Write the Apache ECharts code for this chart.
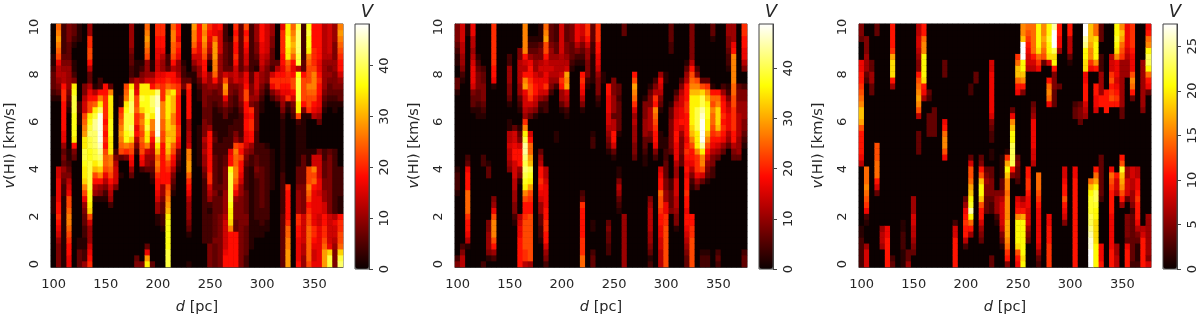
<!DOCTYPE html>
<html>
<head>
<meta charset="utf-8">
<script src="https://cdn.jsdelivr.net/npm/echarts@6/dist/echarts.min.js"></script>
<style>
    html, body { margin: 0; background: #fff; }
    #chart { width: 1200px; height: 320px; }
</style>
</head>
<body>
<div id="chart"></div>
<script>
const distances = [100,105,110,115,120,125,130,135,140,145,150,155,160,165,170,175,180,185,190,195,200,205,210,215,220,225,230,235,240,245,250,255,260,265,270,275,280,285,290,295,300,305,310,315,320,325,330,335,340,345,350,355,360,365,370,375];
const speeds = [0,0.25,0.5,0.75,1,1.25,1.5,1.75,2,2.25,2.5,2.75,3,3.25,3.5,3.75,4,4.25,4.5,4.75,5,5.25,5.5,5.75,6,6.25,6.5,6.75,7,7.25,7.5,7.75,8,8.25,8.5,8.75,9,9.25,9.5,9.75,10];
const hotColors = ["#0b0000","#5e0000","#b20000","#ff0700","#ff5a00","#ffae00","#ffff04","#ffff81","#ffffff"];

// one string per distance column, read top (v=10) to bottom (v=0), base 36 levels
const leftColumns = [
"00000112 33321000 00000000 00000111 00000000 0",
"cdedcb86 65431000 00000000 77888899 a9875444 4",
"22222345 669aa999 99885343 54322111 11111111 1",
"44433345 55543210 00000112 34678bbc ddcba998 8",
"33210011 24hijjji iiih9430 00000000 00000000 0",
"11100000 00000221 10000000 00000000 00001133 3",
"00000000 0044677b cdehhjji hhgdb854 33221122 5",
"55aabb96 33689bbh ijkjjiij jjjjiihg b7555789 a",
"00000000 00169chj llkkkjjh fb965100 00000000 0",
"00000000 0229dhkn nnnnmlkj gd954100 00000000 0",
"00000000 0099aaaa 9a9a9bcc b8642100 00000000 0",
"00000000 003dhhhh iiihhhdd cb976520 00000000 0",
"00000000 00000000 00000246 77740000 00000000 0",
"00000000 000011ab cdedcb30 01000000 00000000 0",
"00000000 00bcdhij jjiida40 00000000 00000000 0",
"55554332 24hjjkkj jkjgcb98 53000000 00000000 0",
"00000011 1678bbca a8964200 00000000 00000003 4",
"00000012 45hhjigc dcbcbb98 20000000 00000000 4",
"cdedcb55 57hhiiij ijhhd755 30000000 0000038e h",
"00000011 579hkkjh ddb97654 32100000 00000000 3",
"aa998877 89bkmmnn nnnkhfcd ca998755 11000000 0",
"aa998655 89aaaddd ccbb9999 99955433 22100000 0",
"00000223 9acfhhhh ggfggfdb a99bcdef hiiiiijj j",
"cddccb96 99bhfffd dfffcb98 64321000 00000000 0",
"998a9855 68aa9999 9aa98432 10000000 00000000 0",
"00000012 23410000 00000000 00000000 00000000 0",
"00000000 13a99999 55667dde eca98655 54310000 1",
"eddca753 11000000 00000000 00000000 00000000 0",
"99988775 53211000 01111111 00000000 00000000 0",
"ededcb99 87444433 44465655 43222222 22222000 0",
"a9876410 55543333 35999999 9aa76521 22222444 4",
"88ceeedd c9533211 11232233 33334333 33334333 3",
"97777555 55443321 11112222 22232333 44444444 4",
"22233333 7bed8533 11122233 44445555 67777789 9",
"00122223 65443321 12222899 ijjjjjih hgd99999 9",
"a9a99a97 77432211 2245bdcc ddca8544 43399999 9",
"33333333 56555432 2223a9b9 98755444 44444444 4",
"b9a98775 889bb998 99887543 22223333 44333332 2",
"22222222 334454a9 aa995422 11111111 11111100 0",
"55544321 77765333 33222233 43222222 21110000 0",
"99988776 55432110 00002222 33333332 22110000 0",
"77777654 44210000 00001222 22222222 21100000 0",
"55443332 7a842000 00000111 11110000 00000000 0",
"00000036 9aa64100 00000000 00000000 00000000 0",
"8aaaa998 9a986542 11111111 12222222 33333333 3",
"hhiihhcb aa98a210 00000000 000a9999 9accddee e",
"cdefec98 9bb97432 00000000 00000000 00000000 0",
"jkkkkjj6 ijjjjhhb 21111111 33345555 aa998888 9",
"22222233 9bbbb941 11111133 33344444 77777665 5",
"ijiihdcb bbdcbba1 00000111 bbbdcb9a bbcccccc b",
"9999aaab dddcb986 00000177 dbc98888 88aa9877 8",
"99999988 9a998875 30000477 77887888 77888888 8",
"66666655 55543210 00000223 33445577 99aabcee e",
"77777654 54332100 00000344 44444444 777778gj j",
"55544455 44432110 00000222 22222222 68776544 4",
"dedcba99 75433100 00000000 22222111 9aabbcgj k"
];
const middleColumns = [
"44432110 03310000 00000000 12221000 00000002 4",
"77766554 21000000 00000000 00000000 00000246 6",
"11000000 00000000 00000023 8999cccc a9986100 0",
"88665678 88743310 00000000 00000000 00000000 0",
"00000123 44433211 00000000 00000000 00000000 0",
"00000002 33444321 00000022 00000000 00000000 2",
"00000000 00000000 00000001 33000000 04455541 0",
"aaaaaaa9 98100000 00000000 00000458 bdddb952 0",
"00000000 00000000 00000000 00000000 00000000 0",
"00000000 00000000 00000000 00000000 00000000 0",
"00000225 55443100 11667665 40000000 00000000 0",
"00000000 00000000 03778997 77665544 21000000 0",
"00004466 66553210 01347999 54100000 67889999 9",
"ddddd976 9de87765 adhjllkj kjihdb99 abbbbbaa 6",
"00123589 9abba753 0079ccef jiheba99 bbbbbbbb 5",
"00123455 78997641 00000000 00000000 00000000 0",
"11134467 68875210 00000356 99a98755 33221000 0",
"cdebb977 88a74220 00000000 66788889 9aa99754 2",
"33345567 65420000 00000000 00000000 00000000 0",
"22233566 65200000 00110000 00000000 00000000 0",
"77777666 7a955310 00000000 00000000 00000000 0",
"33344567 ede76521 00000000 00000000 00000000 0",
"44433321 00000000 00000000 00000000 00000000 0",
"88864210 00000000 00000000 00000000 00000000 0",
"77643210 9a986410 00000000 000023a9 9999aaac c",
"aa975544 42100000 00000000 00000000 00000000 0",
"33322111 11000000 00122000 00000000 01100023 3",
"aaa99887 54442100 00000000 00000000 00000000 0",
"00000000 11000000 00000000 00000000 00000000 0",
"00000000 00998887 76543100 00000000 03433220 0",
"00000000 04445553 66997310 00000000 00000000 0",
"00000000 00332333 33100000 11465321 00000000 0",
"33000000 00000000 00000000 00000000 55555555 5",
"00000000 00000000 00000000 00000000 00000000 0",
"00000000 9bedca75 65554430 00000000 00000000 0",
"00000000 00000000 00000000 00000000 00000000 0",
"00000000 00001444 55533211 00000000 00000000 0",
"00000000 00134466 66430000 00000456 66655431 2",
"00000000 0246a9dc ba998420 00000000 00000000 0",
"00000000 58764310 00111000 7899cbba 99887766 6",
"00000000 11000000 00011223 33445588 aabbbbbb b",
"33322000 00000133 44444300 00223334 00000000 0",
"00000000 00024677 88998886 55777665 44100000 0",
"00000000 02467788 97544433 00000000 00000000 0",
"00000013 56999aa9 99989a98 9899a998 99876543 3",
"44444469 bcdfhhhh hgfdb998 64210000 99aabbbb b",
"00000002 4bdfhhjj jjhhhdaa a8530000 00000000 0",
"00000000 03bgjjlm nnnnlhdd b7300000 00000012 2",
"00000000 03adfhii hhfdb975 43100000 00000012 2",
"33100000 0019cbdc cba98644 22000000 00000000 0",
"00000000 0009cdgg gfb97530 00000000 00000023 2",
"00000000 0025899a 9a985300 00000000 00000000 0",
"55443221 00124678 88653000 00000000 00000000 0",
"55589ddd ddccbbaa aa996430 00000000 00000000 0",
"00000000 00344556 66655530 00000000 00000000 0",
"aa998864 00244555 44321000 00000000 00000023 3"
];
const rightColumns = [
"44300088 99abcdff eb999986 00000000 00112222 2",
"00444555 32000000 00000000 cccdcba8 21000577 7",
"00000033 55330000 00000000 00000000 00000000 0",
"33000000 00000000 0000bbbc cc973000 00000000 0",
"00000000 00000000 00000000 00000000 00566500 0",
"00000000 00000000 00000000 00000000 00889999 9",
"9999aegg g9500000 00000000 00000000 00000002 3",
"00000000 00000000 00000000 00000000 00000000 0",
"00000000 00000000 00000000 00000000 01122211 1",
"00000000 00000000 00000000 00000000 00000033 5",
"00000000 00000000 00000000 00000555 77665430 0",
"66776544 9bcdedb6 00333300 00000000 00000000 0",
"99cddhhh hg985000 00000000 00000000 00000000 0",
"00000000 00032003 33300000 00000000 00000000 0",
"00000000 00000033 33300000 00000000 00000000 0",
"00000000 00000000 00000000 00000000 00000000 0",
"00000033 30000000 89cddb80 00000000 00000000 0",
"00000000 00000000 00000000 00000000 00000000 0",
"00000000 00000000 00000000 00000000 02779999 9",
"00000000 00000000 00000000 00000000 00000000 0",
"00000000 00000000 00000000 00000358 9a996200 0",
"00000000 00220000 00000037 bbcefhil hc950000 0",
"00000000 33000000 00000000 00000000 00000000 0",
"00000000 00000000 00000034 9bfhhfb9 97543000 0",
"00000000 00000000 00000000 34544333 00000000 0",
"00000077 88888887 43220110 33444322 00000003 3",
"00000000 00000000 00000000 00004555 21000000 0",
"00000000 00000000 00000011 11334677 77643100 0",
"00000000 00000000 000001ae hfddcddd deeedca9 4",
"00000000 00000038 dfhhjjjj 94000000 00000000 0",
"00000acf fc980000 00000034 33200789 dhhhhgb9 8",
"ddfnnnhh fd940000 00000000 00000579 ehhhhhhg h",
"cba98776 00000000 00000000 99aa9887 77543000 0",
"ccccc976 00000345 88888776 00000000 00000000 0",
"hhhhgca8 00000000 00000000 0cccba98 88888753 2",
"ddedcb30 00000000 00000000 00000000 00000000 0",
"hhihhg70 09cdc800 00000000 00000000 88999aaa a",
"lnnnjgh9 44433300 00000000 00000000 00000000 0",
"99885000 00300000 00000000 00000000 00000000 0",
"00000000 00000000 00000000 77899b98 74000000 0",
"99666310 00000000 00000000 00000000 00000000 0",
"00000000 00000233 00000000 88999999 99999999 9",
"00000000 00000344 30000000 00000000 00000000 0",
"nnlkhhgg 88999765 00000000 00000000 00000000 0",
"fffedda8 00000000 00000000 00cfhiii jjklmmnn n",
"ccghhhd9 00998870 00000000 9cehjjih hgggghhh h",
"33300222 55559900 00000033 33333200 00000888 9",
"00000000 00099990 00000000 00000000 00000000 0",
"00000677 ab9ab900 00000000 8cba9999 88888899 9",
"hhihgd88 8789a900 00000000 09776000 00000556 6",
"dfecba55 55555533 0000009b ifedb950 00000000 0",
"88887655 50000000 00000000 55777300 44443899 9",
"aaaa9888 bdc93000 00000000 77665542 33333333 2",
"00000000 00000000 00000000 66889a99 98643111 2",
"00000055 55555540 00000000 00000000 00679999 9",
"89cdhjjh c9830000 00000000 00000000 55555554 7"
];

function toCells(columns, unit) {
    let cells = [];
    columns.forEach((col, i) => {
        let levels = col.replace(/ /g, "");
        speeds.forEach((s, j) => {
            let ch = levels.charAt(speeds.length - 1 - j) || "0";
            cells.push([i, j, parseInt(ch, 36) * unit]);
        });
    });
    return cells;
}

const panels = [
    { left: 51, bar: 355, cells: toCells(leftColumns, 2.05), max: 48.2, step: 10 },
    { left: 455, bar: 759, cells: toCells(middleColumns, 2.1), max: 48.8, step: 10 },
    { left: 859, bar: 1163, cells: toCells(rightColumns, 1.2), max: 27.5, step: 5 }
];

const top_ = 24, plotH = 245, plotW = 292, barW = 14;
const textColor = "#262626", lineColor = "#444";
const fontSize = 13;
const italicName = { i: { fontStyle: "italic", fontSize: 14.5, color: textColor, fontFamily: "DejaVu Sans" } };

let grid = [], xAxis = [], yAxis = [], series = [], visualMap = [], title = [];
panels.forEach((p, k) => {
    grid.push({ left: p.left, top: top_, width: plotW, height: plotH, show: true, borderColor: lineColor, borderWidth: 1, backgroundColor: "#0b0000", z: 0 });
    grid.push({ left: p.bar, top: top_, width: barW, height: plotH, show: true, borderColor: lineColor, borderWidth: 1, backgroundColor: "transparent", z: 5 });
    xAxis.push({
        type: "category", gridIndex: k * 2, data: distances, boundaryGap: true,
        name: "{i|d} [pc]", nameLocation: "middle", nameGap: 33,
        nameTextStyle: { color: textColor, fontSize: 14.5, fontFamily: "DejaVu Sans", rich: italicName },
        axisLine: { lineStyle: { color: lineColor } },
        axisTick: { alignWithLabel: true, length: 4, interval: (i) => i % 10 === 0, lineStyle: { color: lineColor } },
        axisLabel: { interval: (i) => i % 10 === 0, color: textColor, fontSize: fontSize, fontFamily: "DejaVu Sans", margin: 11 },
        splitLine: { show: false }
    });
    yAxis.push({
        type: "category", gridIndex: k * 2, data: speeds, boundaryGap: true,
        name: "{i|v}(HI) [km/s]", nameLocation: "middle", nameGap: 33,
        nameTextStyle: { color: textColor, fontSize: 14.5, fontFamily: "DejaVu Sans", rich: italicName },
        axisLine: { lineStyle: { color: lineColor } },
        axisTick: { alignWithLabel: true, length: 4, interval: (i) => i % 8 === 0, lineStyle: { color: lineColor } },
        axisLabel: { interval: (i) => i % 8 === 0, rotate: 90, color: textColor, fontSize: fontSize, fontFamily: "DejaVu Sans", margin: 10 },
        splitLine: { show: false }
    });
    xAxis.push({ type: "category", gridIndex: k * 2 + 1, show: false, data: [""] });
    yAxis.push({
        type: "value", gridIndex: k * 2 + 1, position: "right", min: 0, max: p.max, interval: p.step,
        axisLine: { show: true, lineStyle: { color: lineColor } },
        axisTick: { show: true, length: 4, lineStyle: { color: lineColor } },
        axisLabel: { rotate: 90, color: textColor, fontSize: fontSize, fontFamily: "DejaVu Sans", margin: 9, showMaxLabel: false },
        splitLine: { show: false }
    });
    series.push({
        type: "heatmap", xAxisIndex: k * 2, yAxisIndex: k * 2, data: p.cells,
        itemStyle: { borderWidth: 0 }, emphasis: { disabled: true }, silent: true, progressive: 0, animation: false
    });
    visualMap.push({
        type: "continuous", seriesIndex: k, min: 0, max: p.max, calculable: false, realtime: false,
        orient: "vertical", left: p.bar, top: top_, itemWidth: barW, itemHeight: plotH,
        padding: 0, text: ["", ""], textGap: 0, showLabel: false, hoverLink: false, z: 1,
        inRange: { color: hotColors }
    });
    title.push({
        text: "V", left: p.bar + 7, top: -2, textAlign: "center",
        textStyle: { fontStyle: "italic", fontWeight: "normal", fontSize: 18, color: textColor, fontFamily: "DejaVu Sans" }
    });
});

const chart = echarts.init(document.getElementById("chart"), null, { renderer: "canvas" });
chart.setOption({
    animation: false, backgroundColor: "#fff",
    title: title, grid: grid, xAxis: xAxis, yAxis: yAxis, visualMap: visualMap, series: series
});
</script>
</body>
</html>
